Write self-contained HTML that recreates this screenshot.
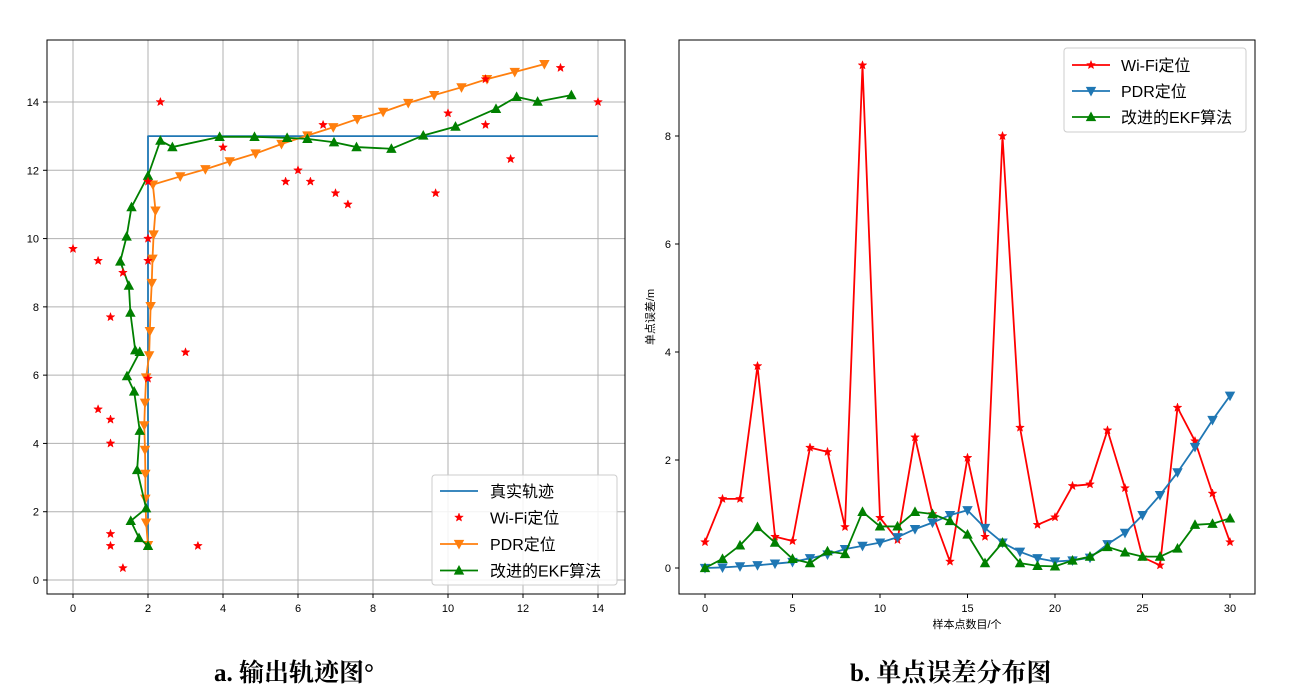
<!DOCTYPE html>
<html><head><meta charset="utf-8"><style>
html,body{margin:0;padding:0;background:#fff;}
svg{display:block;}
text{font-family:"Liberation Sans","WenQuanYi Zen Hei","Noto Sans CJK SC",sans-serif;}
.cap{font-family:"Liberation Serif","Noto Serif CJK SC",serif;font-weight:bold;font-size:25px;}
</style></head><body>
<svg id="c" width="1302" height="692" viewBox="0 0 1302 692" xmlns="http://www.w3.org/2000/svg"></svg>
<script>
// ---- Left chart data (trajectory) ----
const trueX = [2, 2, 14];
const trueY = [1, 13, 13];
const wifiX = [0,0.67,1,0.67,1,1,1,1,1.33,1.33,2,2,2,3,3.33,2.33,4,5.67,6,6.33,6.67,7,7.33,9.67,10,11,11.67,13,14,11,2];
const wifiY = [9.7,9.35,7.7,5.0,4.7,4.0,1.35,1.0,0.35,9.0,10.0,9.35,5.9,6.67,1.0,14,12.67,11.67,12,11.67,13.33,11.33,11,11.33,13.67,13.33,12.33,15,14,14.67,11.67];
const pdrX = [2.0,1.95,1.93,1.93,1.92,1.9,1.92,1.95,2.03,2.05,2.07,2.1,2.12,2.15,2.2,2.13,2.86,3.53,4.18,4.87,5.56,6.25,6.94,7.58,8.27,8.94,9.63,10.36,11.04,11.78,12.57];
const pdrY = [1.02,1.68,2.38,3.11,3.81,4.53,5.19,5.93,6.58,7.29,8.02,8.7,9.41,10.12,10.82,11.58,11.82,12.03,12.26,12.49,12.77,13.02,13.26,13.5,13.71,13.97,14.2,14.43,14.67,14.88,15.11];
const ekfX = [2.0,1.76,1.54,1.95,1.71,1.78,1.63,1.44,1.78,1.66,1.53,1.49,1.26,1.43,1.56,2.0,2.33,2.65,3.91,4.84,5.71,6.25,6.96,7.56,8.49,9.34,10.2,11.28,11.83,12.39,13.29];
const ekfY = [1.0,1.23,1.73,2.1,3.22,4.37,5.52,5.97,6.68,6.73,7.83,8.62,9.33,10.06,10.92,11.84,12.87,12.68,12.98,12.98,12.95,12.92,12.82,12.68,12.63,13.02,13.28,13.8,14.15,14.01,14.2];
const leftTicks = [0,2,4,6,8,10,12,14];
// ---- Right chart data (errors) ----
const sampleIdx = Array.from({length:31},(_,i)=>i);
const wifiErr = [0.48,1.28,1.28,3.74,0.58,0.5,2.23,2.15,0.76,9.31,0.93,0.52,2.42,1.0,0.12,2.04,0.58,8.0,2.6,0.8,0.94,1.52,1.55,2.55,1.48,0.2,0.05,2.97,2.35,1.38,0.48];
const pdrErr = [0,0.01,0.03,0.05,0.08,0.11,0.18,0.25,0.35,0.41,0.47,0.57,0.72,0.84,0.98,1.07,0.74,0.47,0.3,0.18,0.12,0.14,0.19,0.44,0.65,0.98,1.35,1.77,2.24,2.74,3.19];
const ekfErr = [0,0.17,0.42,0.76,0.47,0.17,0.09,0.31,0.26,1.04,0.77,0.77,1.04,1.0,0.87,0.62,0.09,0.47,0.09,0.04,0.03,0.14,0.21,0.39,0.29,0.21,0.21,0.36,0.8,0.82,0.92];
const rightXTicks = [0,5,10,15,20,25,30];
const rightYTicks = [0,2,4,6,8];

const NS='http://www.w3.org/2000/svg';
const svg=document.getElementById('c');
function mk(tag,attrs,parent){const e=document.createElementNS(NS,tag);for(const k in attrs)e.setAttribute(k,attrs[k]);(parent||svg).appendChild(e);return e;}

// axes functions
const Lx=v=>73+v*37.5, Ly=v=>580-v*34.143;
const Rx=v=>705+v*17.5, Ry=v=>568-v*54;

function star(g,x,y,r,color){
  let p=[];for(let i=0;i<10;i++){const a=-Math.PI/2+i*Math.PI/5;const rr=i%2?r*0.42:r;p.push((x+rr*Math.cos(a)).toFixed(1)+','+(y+rr*Math.sin(a)).toFixed(1));}
  return mk('polygon',{points:p.join(' '),fill:color,stroke:color,'stroke-width':0.5},g);
}
function tri(g,x,y,r,color,down){
  const s=down?-1:1;
  return mk('polygon',{points:`${x},${y-s*r} ${x-r*0.95},${y+s*r*0.75} ${x+r*0.95},${y+s*r*0.75}`,fill:color},g);
}
function poly(g,xs,ys,fx,fy,color){
  return mk('polyline',{points:xs.map((v,i)=>fx(v)+','+fy(ys[i])).join(' '),fill:'none',stroke:color,'stroke-width':1.8,'stroke-linejoin':'round'},g);
}

// ---------- LEFT ----------
const L=mk('g',{});


leftTicks.forEach(t=>{
  mk('line',{x1:Lx(t),x2:Lx(t),y1:40,y2:594,stroke:'#b0b0b0','stroke-width':1},L);
  mk('line',{x1:47,x2:625,y1:Ly(t),y2:Ly(t),stroke:'#b0b0b0','stroke-width':1},L);
  mk('line',{x1:Lx(t),x2:Lx(t),y1:594,y2:598,stroke:'#000'},L);
  mk('line',{x1:43,x2:47,y1:Ly(t),y2:Ly(t),stroke:'#000'},L);
  const tx=mk('text',{x:Lx(t),y:612,'font-size':11,'text-anchor':'middle'},L);tx.textContent=t;
  
  
  const ty=mk('text',{x:39,y:Ly(t)+4,'font-size':11,'text-anchor':'end'},L);ty.textContent=t;
  
  
});
const tl=poly(L,trueX,trueY,Lx,Ly,'#1f77b4');


const pl=poly(L,pdrX,pdrY,Lx,Ly,'#ff7f0e');


pdrX.forEach((v,i)=>tri(L,Lx(v),Ly(pdrY[i]),5.5,'#ff7f0e',true));
const el=poly(L,ekfX,ekfY,Lx,Ly,'#008000');


ekfX.forEach((v,i)=>tri(L,Lx(v),Ly(ekfY[i]),5.5,'#008000',false));
wifiX.forEach((v,i)=>{const s=star(L,Lx(v),Ly(wifiY[i]),4.5,'#ff0000');
  
  });
mk('rect',{x:47,y:40,width:578,height:554,fill:'none',stroke:'#000','stroke-width':1},L);
// left legend
const LL=mk('g',{},L);


mk('rect',{x:432,y:475,width:185,height:110,rx:3,fill:'#fff','fill-opacity':0.85,stroke:'#ccc'},LL);
[['真实轨迹','#1f77b4','line'],['Wi-Fi定位','#ff0000','star'],['PDR定位','#ff7f0e','down'],['改进的EKF算法','#008000','up']].forEach((e,i)=>{
  const y=491+i*26.5;
  if(e[2]!=='star')mk('line',{x1:440,x2:478,y1:y,y2:y,stroke:e[1],'stroke-width':1.8},LL);
  if(e[2]==='star')star(LL,459,y,4.5,e[1]);
  if(e[2]==='down')tri(LL,459,y,5.5,e[1],true);
  if(e[2]==='up')tri(LL,459,y,5.5,e[1],false);
  const t=mk('text',{x:490,y:y+6,'font-size':16},LL);t.textContent=e[0];
  
  
});

// ---------- RIGHT ----------
const R=mk('g',{});


rightXTicks.forEach(t=>{
  mk('line',{x1:Rx(t),x2:Rx(t),y1:594,y2:598,stroke:'#000'},R);
  const tx=mk('text',{x:Rx(t),y:612,'font-size':11,'text-anchor':'middle'},R);tx.textContent=t;
  
  
});
rightYTicks.forEach(t=>{
  mk('line',{x1:675,x2:679,y1:Ry(t),y2:Ry(t),stroke:'#000'},R);
  const ty=mk('text',{x:671,y:Ry(t)+4,'font-size':11,'text-anchor':'end'},R);ty.textContent=t;
  
  
});
const rw=poly(R,sampleIdx,wifiErr,Rx,Ry,'#ff0000');


wifiErr.forEach((v,i)=>star(R,Rx(i),Ry(v),4.5,'#ff0000'));
const rp=poly(R,sampleIdx,pdrErr,Rx,Ry,'#1f77b4');


pdrErr.forEach((v,i)=>tri(R,Rx(i),Ry(v),5.5,'#1f77b4',true));
const re=poly(R,sampleIdx,ekfErr,Rx,Ry,'#008000');


ekfErr.forEach((v,i)=>tri(R,Rx(i),Ry(v),5.5,'#008000',false));
mk('rect',{x:679,y:40,width:576,height:554,fill:'none',stroke:'#000','stroke-width':1},R);
const xt=mk('text',{x:967,y:628,'font-size':11,'text-anchor':'middle'},R);xt.textContent='样本点数目/个';


const yt=mk('text',{x:0,y:0,'font-size':11,'text-anchor':'middle',transform:'translate(654,317) rotate(-90)'},R);yt.textContent='单点误差/m';


const RL=mk('g',{},R);


mk('rect',{x:1064,y:48,width:182,height:84,rx:3,fill:'#fff','fill-opacity':0.85,stroke:'#ccc'},RL);
[['Wi-Fi定位','#ff0000','star'],['PDR定位','#1f77b4','down'],['改进的EKF算法','#008000','up']].forEach((e,i)=>{
  const y=65+i*26;
  mk('line',{x1:1072,x2:1110,y1:y,y2:y,stroke:e[1],'stroke-width':1.8},RL);
  if(e[2]==='star')star(RL,1091,y,4.5,e[1]);
  if(e[2]==='down')tri(RL,1091,y,5.5,e[1],true);
  if(e[2]==='up')tri(RL,1091,y,5.5,e[1],false);
  const t=mk('text',{x:1121,y:y+6,'font-size':16},RL);t.textContent=e[0];
  
  
});

// captions
const c1=mk('text',{x:214,y:681,class:'cap'});c1.textContent='a. 输出轨迹图°';


const c2=mk('text',{x:850,y:681,class:'cap'});c2.textContent='b. 单点误差分布图';


</script>
</body></html>
